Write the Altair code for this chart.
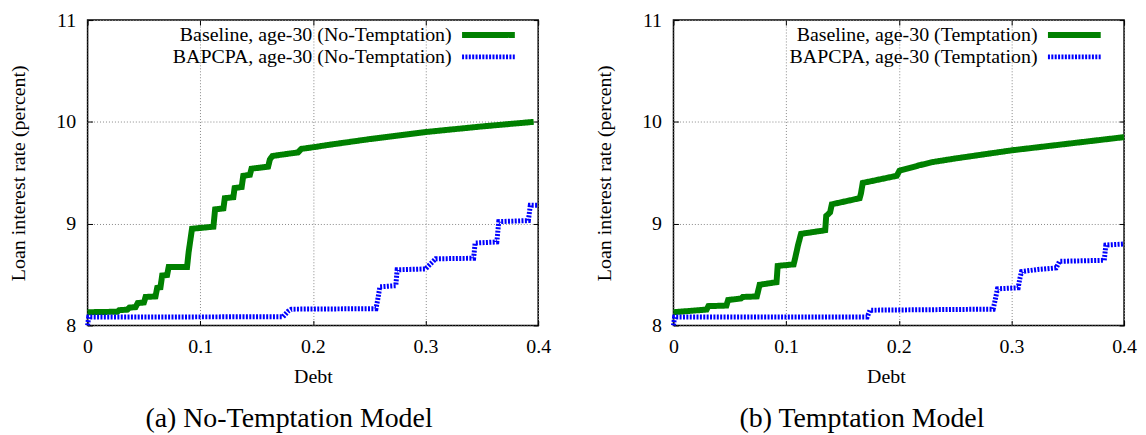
import altair as alt
import pandas as pd

# ---------------- data ----------------
# (a) No-Temptation model
nt_base_debt = [0.0, 0.0265, 0.028, 0.0353, 0.037, 0.0426, 0.0445, 0.050, 0.0515, 0.0603, 0.0618,
                0.0647, 0.0662, 0.0706, 0.072, 0.0883, 0.0897, 0.0927, 0.1117, 0.1132, 0.1206,
                0.1218, 0.1294, 0.1305, 0.1368, 0.1382, 0.1441, 0.1455, 0.1603, 0.1618, 0.1641,
                0.1868, 0.1898, 0.20, 0.2147, 0.25, 0.30, 0.35, 0.396]
nt_base_rate = [8.13, 8.135, 8.15, 8.155, 8.175, 8.18, 8.22, 8.225, 8.28, 8.285, 8.37,
                8.375, 8.49, 8.495, 8.575, 8.575, 8.72, 8.95, 8.97, 9.14, 9.15,
                9.25, 9.26, 9.35, 9.36, 9.47, 9.48, 9.54, 9.56, 9.63, 9.665,
                9.70, 9.735, 9.75, 9.775, 9.83, 9.90, 9.955, 10.0]
nt_bap_debt = [0.0, 0.001, 0.1735, 0.178, 0.181, 0.256, 0.2575, 0.2595, 0.2736, 0.2748, 0.300,
               0.304, 0.309, 0.3427, 0.344, 0.3633, 0.365, 0.3913, 0.393, 0.40]
nt_bap_rate = [8.0, 8.083, 8.085, 8.14, 8.16, 8.165, 8.25, 8.38, 8.39, 8.547, 8.555,
               8.60, 8.655, 8.66, 8.81, 8.82, 9.02, 9.03, 9.18, 9.18]

# (b) Temptation model
t_base_debt = [0.0, 0.0294, 0.031, 0.047, 0.0485, 0.060, 0.0615, 0.074, 0.0765, 0.0915, 0.0925,
               0.1067, 0.108, 0.1106, 0.1132, 0.1347, 0.1356, 0.139, 0.1406, 0.1653, 0.1665,
               0.168, 0.1982, 0.2006, 0.2188, 0.23, 0.25, 0.30, 0.35, 0.40]
t_base_rate = [8.13, 8.156, 8.19, 8.195, 8.25, 8.265, 8.28, 8.285, 8.40, 8.425, 8.585,
               8.60, 8.66, 8.79, 8.90, 8.935, 9.076, 9.11, 9.19, 9.25, 9.30,
               9.40, 9.47, 9.52, 9.575, 9.605, 9.64, 9.72, 9.785, 9.85]
t_bap_debt = [0.0, 0.001, 0.172, 0.1745, 0.2838, 0.2853, 0.2876, 0.306, 0.3074, 0.309, 0.3236,
              0.3397, 0.3427, 0.3824, 0.3838, 0.40]
t_bap_rate = [8.0, 8.083, 8.083, 8.15, 8.16, 8.235, 8.36, 8.37, 8.457, 8.53, 8.55,
              8.565, 8.63, 8.64, 8.79, 8.80]

x_ticks = [0, 0.1, 0.2, 0.3, 0.4]
y_ticks = [8, 9, 10, 11]

FONT = "Liberation Serif"
GREEN = "#008000"
BLUE = "#0000ff"
W, H = 453, 307


def panel(bx, by, px, py, base_label, bap_label, caption, cap_dx, debt_title_x):
    df = pd.concat([
        pd.DataFrame({"debt": bx, "rate": by, "series": base_label}),
        pd.DataFrame({"debt": px, "rate": py, "series": bap_label}),
    ], ignore_index=True)
    domain = [base_label, bap_label]
    xs = alt.Scale(domain=[0, 0.4], nice=False, zero=False)
    ys = alt.Scale(domain=[8, 11], nice=False, zero=False)
    leg = alt.Legend(
        title=None, orient="none", legendX=393, legendY=5,
        symbolType="M-3.79,0H3.79", symbolSize=196, symbolStrokeWidth=6,
        symbolFillColor="transparent",
        labelAlign="right", labelOffset={"expr": "-47"}, labelFont=FONT, labelFontSize=20,
        labelColor="black", labelLimit=0, rowPadding=0, padding=0,
    )
    lines = alt.Chart(df).mark_line(strokeCap="butt").encode(
        x=alt.X("debt:Q", scale=xs, axis=alt.Axis(
            values=x_ticks, format="~g", labelFlush=False, title="Debt", grid=True, domain=False,
            tickSize=5, offset=-5, tickColor="black", labelPadding=11,
            titlePadding=10, titleX=debt_title_x)),
        y=alt.Y("rate:Q", scale=ys, axis=alt.Axis(
            values=y_ticks, labelFlush=False, title="Loan interest rate (percent)", grid=True,
            domain=False, tickSize=5, offset=-5, tickColor="black",
            labelPadding=12, titlePadding=27)),
        color=alt.Color("series:N", scale=alt.Scale(domain=domain, range=[GREEN, BLUE]), legend=leg),
        strokeDash=alt.StrokeDash("series:N", scale=alt.Scale(domain=domain, range=[[1, 0], [2, 1.4]]), legend=leg),
        strokeWidth=alt.StrokeWidth("series:N", scale=alt.Scale(domain=domain, range=[6, 5]), legend=None),
    )
    mirror = alt.Chart(df).mark_point(opacity=0).encode(
        x=alt.X("debt:Q", scale=xs, axis=alt.Axis(
            orient="top", values=x_ticks, labels=False, title=None, grid=False,
            domain=False, tickSize=5, offset=-5, tickColor="black")),
        y=alt.Y("rate:Q", scale=ys, axis=alt.Axis(
            orient="right", values=y_ticks, labels=False, title=None, grid=False,
            domain=False, tickSize=5, offset=-5, tickColor="black")),
    )
    return alt.layer(lines, mirror).resolve_axis(x="independent", y="independent").properties(
        width=W, height=H,
        title=alt.TitleParams(text=caption, orient="bottom", anchor="middle", frame="group",
                              font=FONT, fontSize=28, fontWeight="normal", color="black",
                              offset=19, dx=cap_dx),
    )


left = panel(nt_base_debt, nt_base_rate, nt_bap_debt, nt_bap_rate,
             "Baseline, age-30 (No-Temptation)", "BAPCPA, age-30 (No-Temptation)",
             "(a) No-Temptation Model", -24, 226.5)
right = panel(t_base_debt, t_base_rate, t_bap_debt, t_bap_rate,
              "Baseline, age-30 (Temptation)", "BAPCPA, age-30 (Temptation)",
              "(b) Temptation Model", -37, 213.5)

chart = alt.hconcat(left, right, spacing=42).resolve_scale(
    color="independent", strokeDash="independent", strokeWidth="independent"
).properties(padding=0, background="white").configure_view(
    stroke="black", strokeWidth=1.5
).configure_axis(
    labelFont=FONT, labelFontSize=20, labelColor="black",
    titleFont=FONT, titleFontSize=20, titleFontWeight="normal", titleColor="black",
    gridColor="#888888", gridDash=[1, 2], gridWidth=1, gridOpacity=1,
)

chart.save("out.html", embed_options={"renderer": "svg", "actions": False})
